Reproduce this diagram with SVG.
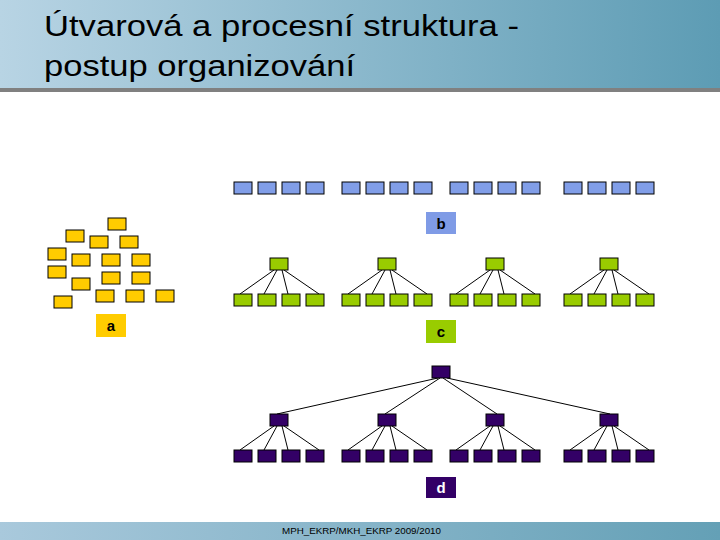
<svg xmlns="http://www.w3.org/2000/svg" width="720" height="540" viewBox="0 0 720 540">
<defs>
<linearGradient id="hdr" x1="0" y1="0" x2="1" y2="0">
<stop offset="0" stop-color="#b8d4e4"/>
<stop offset="1" stop-color="#5d9cb4"/>
</linearGradient>
<linearGradient id="ftr" x1="0" y1="0" x2="1" y2="0">
<stop offset="0" stop-color="#a9c9dc"/>
<stop offset="1" stop-color="#64a0b6"/>
</linearGradient>
<style>
.y{fill:#ffcc00;stroke:#000;stroke-width:1}
.bl{fill:#819ee8;stroke:#000;stroke-width:1}
.g{fill:#99cc00;stroke:#000;stroke-width:1}
.p{fill:#330066;stroke:#000;stroke-width:1}
.ln line{stroke:#000;stroke-width:1}
.lbl{font-family:"Liberation Sans",Arial,sans-serif;font-weight:bold;font-size:15px;text-anchor:middle}
.ttl{font-family:"Liberation Sans",Arial,sans-serif;font-size:30px;fill:#000}
</style>
</defs>
<rect width="720" height="540" fill="#fff"/>
<rect x="0" y="0" width="720" height="88" fill="url(#hdr)"/>
<rect x="0" y="88" width="720" height="4" fill="#808080"/>
<text class="ttl" x="44" y="36" textLength="475" lengthAdjust="spacingAndGlyphs">Útvarová a procesní struktura -</text>
<text class="ttl" x="44" y="76" textLength="311" lengthAdjust="spacingAndGlyphs">postup organizování</text>
<rect x="0" y="522" width="720" height="18" fill="url(#ftr)"/>
<text x="282" y="534" font-family="'Liberation Sans',Arial,sans-serif" font-size="9.5" textLength="159" lengthAdjust="spacingAndGlyphs" fill="#000">MPH_EKRP/MKH_EKRP 2009/2010</text>

<g id="a-boxes">
<rect class="y" x="108" y="218" width="18" height="12"/>
<rect class="y" x="66" y="230" width="18" height="12"/>
<rect class="y" x="90" y="236" width="18" height="12"/>
<rect class="y" x="120" y="236" width="18" height="12"/>
<rect class="y" x="48" y="248" width="18" height="12"/>
<rect class="y" x="72" y="254" width="18" height="12"/>
<rect class="y" x="102" y="254" width="18" height="12"/>
<rect class="y" x="132" y="254" width="18" height="12"/>
<rect class="y" x="48" y="266" width="18" height="12"/>
<rect class="y" x="102" y="272" width="18" height="12"/>
<rect class="y" x="132" y="272" width="18" height="12"/>
<rect class="y" x="72" y="278" width="18" height="12"/>
<rect class="y" x="54" y="296" width="18" height="12"/>
<rect class="y" x="96" y="290" width="18" height="12"/>
<rect class="y" x="126" y="290" width="18" height="12"/>
<rect class="y" x="156" y="290" width="18" height="12"/>
</g>
<g id="label-a">
<rect x="96" y="314" width="30" height="23" fill="#ffcc00"/>
<text class="lbl" x="111" y="331" font-size="16">a</text>
</g>

<g id="b-boxes">
<rect class="bl" x="234" y="182" width="18" height="12"/><rect class="bl" x="258" y="182" width="18" height="12"/><rect class="bl" x="282" y="182" width="18" height="12"/><rect class="bl" x="306" y="182" width="18" height="12"/>
<rect class="bl" x="342" y="182" width="18" height="12"/><rect class="bl" x="366" y="182" width="18" height="12"/><rect class="bl" x="390" y="182" width="18" height="12"/><rect class="bl" x="414" y="182" width="18" height="12"/>
<rect class="bl" x="450" y="182" width="18" height="12"/><rect class="bl" x="474" y="182" width="18" height="12"/><rect class="bl" x="498" y="182" width="18" height="12"/><rect class="bl" x="522" y="182" width="18" height="12"/>
<rect class="bl" x="564" y="182" width="18" height="12"/><rect class="bl" x="588" y="182" width="18" height="12"/><rect class="bl" x="612" y="182" width="18" height="12"/><rect class="bl" x="636" y="182" width="18" height="12"/>
</g>
<g id="label-b">
<rect x="426" y="212" width="30" height="22" fill="#7f9be6"/>
<text class="lbl" x="441" y="229">b</text>
</g>

<g id="c-connectors" class="ln">
<line x1="274" y1="270" x2="240" y2="294"/><line x1="277" y1="270" x2="264" y2="294"/><line x1="282" y1="270" x2="288" y2="294"/><line x1="284" y1="270" x2="319" y2="294"/>
<line x1="382" y1="270" x2="348" y2="294"/><line x1="385" y1="270" x2="372" y2="294"/><line x1="390" y1="270" x2="396" y2="294"/><line x1="392" y1="270" x2="427" y2="294"/>
<line x1="490" y1="270" x2="456" y2="294"/><line x1="493" y1="270" x2="480" y2="294"/><line x1="498" y1="270" x2="504" y2="294"/><line x1="500" y1="270" x2="535" y2="294"/>
<line x1="604" y1="270" x2="570" y2="294"/><line x1="607" y1="270" x2="594" y2="294"/><line x1="612" y1="270" x2="618" y2="294"/><line x1="614" y1="270" x2="649" y2="294"/>
</g>
<g id="c-boxes">
<rect class="g" x="270" y="258" width="18" height="12"/><rect class="g" x="378" y="258" width="18" height="12"/><rect class="g" x="486" y="258" width="18" height="12"/><rect class="g" x="600" y="258" width="18" height="12"/>
<rect class="g" x="234" y="294" width="18" height="12"/><rect class="g" x="258" y="294" width="18" height="12"/><rect class="g" x="282" y="294" width="18" height="12"/><rect class="g" x="306" y="294" width="18" height="12"/>
<rect class="g" x="342" y="294" width="18" height="12"/><rect class="g" x="366" y="294" width="18" height="12"/><rect class="g" x="390" y="294" width="18" height="12"/><rect class="g" x="414" y="294" width="18" height="12"/>
<rect class="g" x="450" y="294" width="18" height="12"/><rect class="g" x="474" y="294" width="18" height="12"/><rect class="g" x="498" y="294" width="18" height="12"/><rect class="g" x="522" y="294" width="18" height="12"/>
<rect class="g" x="564" y="294" width="18" height="12"/><rect class="g" x="588" y="294" width="18" height="12"/><rect class="g" x="612" y="294" width="18" height="12"/><rect class="g" x="636" y="294" width="18" height="12"/>
</g>
<g id="label-c">
<rect x="426" y="320" width="30" height="23" fill="#99cc00"/>
<text class="lbl" x="441" y="337">c</text>
</g>

<g id="d-connectors" class="ln">
<line x1="438" y1="378" x2="277" y2="414"/><line x1="440" y1="378" x2="385" y2="414"/><line x1="443" y1="378" x2="497" y2="414"/><line x1="447" y1="378" x2="610" y2="414"/>
<line x1="274" y1="426" x2="240" y2="450"/><line x1="277" y1="426" x2="264" y2="450"/><line x1="282" y1="426" x2="288" y2="450"/><line x1="284" y1="426" x2="319" y2="450"/>
<line x1="382" y1="426" x2="348" y2="450"/><line x1="385" y1="426" x2="372" y2="450"/><line x1="390" y1="426" x2="396" y2="450"/><line x1="392" y1="426" x2="427" y2="450"/>
<line x1="490" y1="426" x2="456" y2="450"/><line x1="493" y1="426" x2="480" y2="450"/><line x1="498" y1="426" x2="504" y2="450"/><line x1="500" y1="426" x2="535" y2="450"/>
<line x1="604" y1="426" x2="570" y2="450"/><line x1="607" y1="426" x2="594" y2="450"/><line x1="612" y1="426" x2="618" y2="450"/><line x1="614" y1="426" x2="649" y2="450"/>
</g>
<g id="d-boxes">
<rect class="p" x="432" y="366" width="18" height="12"/>
<rect class="p" x="270" y="414" width="18" height="12"/><rect class="p" x="378" y="414" width="18" height="12"/><rect class="p" x="486" y="414" width="18" height="12"/><rect class="p" x="600" y="414" width="18" height="12"/>
<rect class="p" x="234" y="450" width="18" height="12"/><rect class="p" x="258" y="450" width="18" height="12"/><rect class="p" x="282" y="450" width="18" height="12"/><rect class="p" x="306" y="450" width="18" height="12"/>
<rect class="p" x="342" y="450" width="18" height="12"/><rect class="p" x="366" y="450" width="18" height="12"/><rect class="p" x="390" y="450" width="18" height="12"/><rect class="p" x="414" y="450" width="18" height="12"/>
<rect class="p" x="450" y="450" width="18" height="12"/><rect class="p" x="474" y="450" width="18" height="12"/><rect class="p" x="498" y="450" width="18" height="12"/><rect class="p" x="522" y="450" width="18" height="12"/>
<rect class="p" x="564" y="450" width="18" height="12"/><rect class="p" x="588" y="450" width="18" height="12"/><rect class="p" x="612" y="450" width="18" height="12"/><rect class="p" x="636" y="450" width="18" height="12"/>
</g>
<g id="label-d">
<rect x="426" y="477" width="30" height="21" fill="#330066"/>
<text class="lbl" x="441" y="493" fill="#fff">d</text>
</g>
</svg>
